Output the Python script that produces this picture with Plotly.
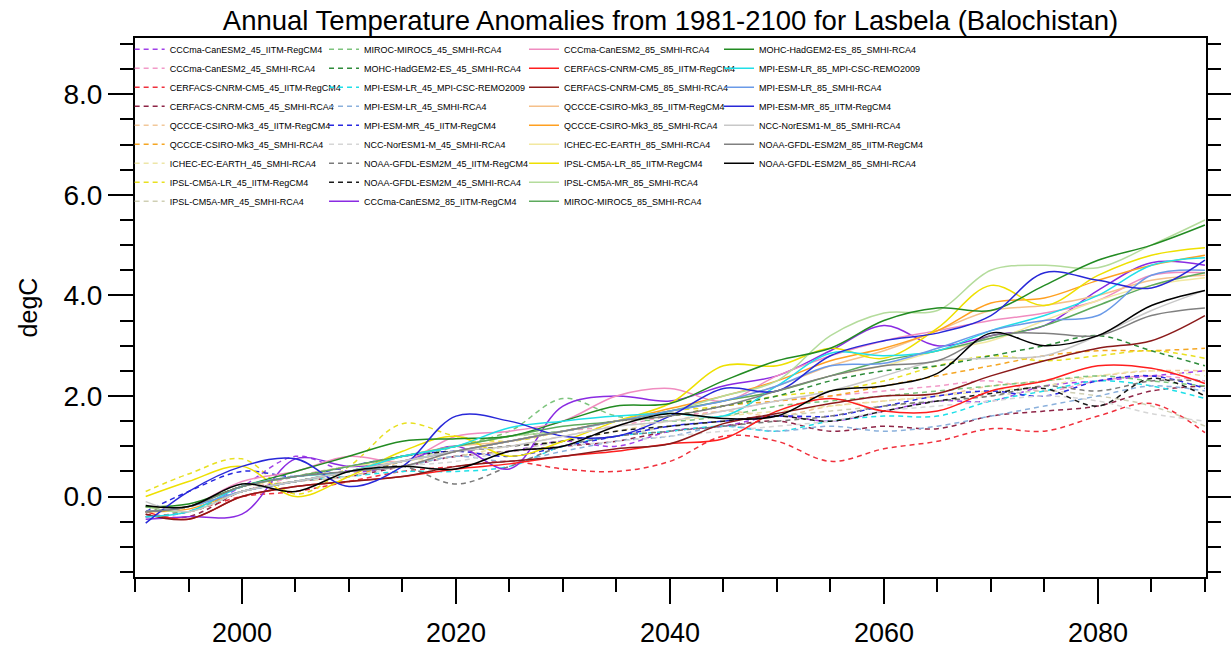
import plotly.graph_objects as go

years = [1991, 1995, 2000, 2005, 2010, 2015, 2020, 2025, 2030, 2035, 2040,
         2045, 2050, 2055, 2060, 2065, 2070, 2075, 2080, 2085, 2090]

# ---- RCP4.5 (dashed) ----
cccma45_iitm = [-0.40, -0.30, 0.20, 0.80, 0.50, 0.60, 0.80, 0.90, 1.10, 1.00, 1.30, 1.40, 1.60, 1.50, 1.70, 1.90, 1.90, 2.20, 2.30, 2.40, 2.50]
cccma45_smhi = [-0.30, -0.20, 0.10, 0.40, 0.60, 0.70, 0.90, 1.10, 1.30, 1.40, 1.60, 1.70, 1.90, 2.00, 2.10, 2.20, 2.30, 2.10, 2.30, 2.40, 2.30]
cerfacs45_iitm = [-0.40, -0.30, 0.00, 0.10, 0.30, 0.50, 0.60, 0.70, 0.55, 0.50, 0.70, 1.20, 1.10, 0.70, 0.95, 1.10, 1.35, 1.30, 1.60, 1.85, 1.27]
cerfacs45_smhi = [-0.35, -0.40, 0.10, 0.30, 0.40, 0.60, 0.80, 0.90, 1.00, 1.10, 1.30, 1.40, 1.50, 1.30, 1.40, 1.35, 1.60, 1.70, 1.80, 2.10, 2.20]
qccce45_iitm = [-0.30, -0.20, 0.20, 0.30, 0.50, 0.60, 0.90, 1.00, 1.20, 1.40, 1.50, 1.70, 1.60, 1.80, 1.90, 2.00, 2.20, 2.30, 2.40, 2.50, 2.50]
qccce45_smhi = [-0.30, -0.20, 0.10, 0.30, 0.40, 0.70, 0.90, 1.10, 1.30, 1.50, 1.60, 1.80, 1.90, 2.00, 2.20, 2.40, 2.60, 2.80, 2.90, 2.90, 2.95]
ichec45_smhi = [-0.30, -0.20, 0.20, 0.40, 0.50, 0.70, 0.80, 1.00, 1.10, 1.30, 1.50, 1.60, 1.70, 1.80, 1.90, 2.00, 2.10, 2.20, 2.40, 2.50, 2.40]
ipsllr45_iitm = [0.10, 0.45, 0.75, 0.05, 0.60, 1.45, 1.20, 1.10, 1.30, 1.50, 1.70, 1.80, 2.00, 2.10, 2.30, 2.60, 2.80, 2.70, 2.80, 2.90, 2.75]
ipslmr45_smhi = [-0.20, -0.30, 0.10, 0.30, 0.50, 0.60, 0.80, 0.90, 1.10, 1.20, 1.40, 1.50, 1.60, 1.70, 1.80, 1.90, 2.00, 2.10, 2.00, 1.80, 1.40]
miroc45_smhi = [-0.30, -0.20, 0.10, 0.30, 0.50, 0.70, 1.00, 1.30, 1.95, 1.60, 1.50, 1.60, 1.80, 1.90, 2.00, 2.10, 2.20, 2.30, 2.40, 2.30, 2.20]
mohc45_smhi = [-0.30, -0.20, 0.20, 0.40, 0.60, 0.80, 1.00, 1.20, 1.30, 1.50, 1.60, 1.80, 2.00, 2.30, 2.50, 2.60, 2.80, 3.00, 3.20, 2.90, 2.60]
mpilr45_remo = [-0.40, -0.30, 0.10, 0.30, 0.40, 0.50, 0.50, 0.60, 1.00, 1.20, 1.30, 1.40, 1.30, 1.50, 1.60, 1.60, 1.90, 2.10, 2.30, 2.20, 1.95]
mpilr45_smhi = [-0.30, -0.20, 0.10, 0.30, 0.50, 0.60, 0.80, 0.70, 0.90, 1.10, 1.20, 1.40, 1.30, 1.40, 1.30, 1.40, 1.60, 1.80, 2.00, 2.20, 2.10]
mpimr45_iitm = [-0.30, 0.10, 0.50, 0.40, 0.60, 0.80, 0.90, 0.80, 1.00, 1.20, 1.40, 1.50, 1.60, 1.60, 1.80, 2.00, 2.10, 2.00, 2.30, 2.40, 2.15]
ncc45_smhi = [-0.30, -0.20, 0.10, 0.30, 0.40, 0.60, 0.70, 0.90, 1.00, 1.10, 1.20, 1.30, 1.40, 1.50, 1.70, 1.80, 1.90, 2.00, 1.90, 1.65, 1.50]
noaa45_iitm = [-0.30, -0.20, 0.20, 0.40, 0.50, 0.60, 0.25, 0.60, 1.00, 1.20, 1.30, 1.40, 1.50, 1.60, 1.80, 1.90, 2.00, 2.20, 2.10, 2.30, 2.30]
noaa45_smhi = [-0.20, -0.30, 0.10, 0.30, 0.50, 0.80, 0.90, 1.00, 1.10, 1.30, 1.40, 1.50, 1.60, 1.50, 1.70, 1.90, 2.05, 2.15, 1.80, 2.35, 2.00]

# ---- RCP8.5 (solid) ----
cccma85_iitm = [-0.45, -0.40, -0.35, 0.75, 0.60, 0.70, 1.00, 0.55, 1.80, 2.00, 1.90, 2.20, 2.40, 2.90, 3.40, 3.00, 3.20, 3.40, 4.10, 4.65, 4.60]
cccma85_smhi = [-0.30, -0.20, 0.30, 0.50, 0.80, 0.70, 1.20, 1.30, 1.50, 2.00, 2.15, 1.90, 2.40, 2.80, 3.10, 3.30, 3.50, 3.65, 3.90, 4.40, 4.45]
cerfacs85_iitm = [-0.30, -0.45, 0.00, 0.20, 0.30, 0.40, 0.55, 0.65, 0.80, 0.90, 1.05, 1.15, 1.70, 1.95, 1.70, 1.70, 2.10, 2.30, 2.60, 2.55, 2.25]
cerfacs85_smhi = [-0.35, -0.45, 0.00, 0.20, 0.30, 0.40, 0.60, 0.70, 0.80, 0.95, 1.05, 1.45, 1.65, 1.85, 2.00, 2.05, 2.40, 2.70, 2.95, 3.10, 3.60]
qccce85_iitm = [-0.30, -0.20, 0.20, 0.40, 0.50, 0.80, 1.00, 1.10, 1.30, 1.50, 1.70, 1.90, 2.20, 2.60, 2.90, 3.30, 3.70, 3.80, 4.00, 4.30, 4.40]
qccce85_smhi = [-0.30, -0.25, 0.10, 0.30, 0.50, 0.70, 0.90, 1.10, 1.30, 1.50, 1.75, 2.00, 2.30, 2.70, 2.95, 3.30, 3.85, 3.95, 4.30, 4.60, 4.80]
ichec85_smhi = [-0.20, -0.20, 0.20, 0.40, 0.60, 0.70, 0.90, 1.10, 1.30, 1.50, 1.70, 1.90, 2.10, 2.40, 2.60, 2.90, 3.10, 3.50, 3.90, 4.20, 4.35]
ipsllr85_iitm = [0.00, 0.30, 0.60, 0.00, 0.40, 0.90, 1.20, 0.80, 1.10, 1.50, 1.85, 2.60, 2.60, 2.95, 2.75, 3.35, 4.20, 3.80, 4.40, 4.80, 4.95]
ipslmr85_smhi = [-0.20, -0.30, 0.10, 0.30, 0.50, 0.80, 1.00, 1.20, 1.30, 1.50, 1.70, 2.00, 2.30, 3.20, 3.65, 3.70, 4.50, 4.60, 4.55, 5.00, 5.50]
miroc85_smhi = [-0.30, -0.20, 0.20, 0.40, 0.60, 0.80, 1.00, 1.20, 1.40, 1.50, 1.70, 1.90, 2.10, 2.40, 2.70, 2.90, 3.15, 3.40, 3.80, 4.20, 4.45]
mohc85_smhi = [-0.20, -0.15, 0.20, 0.50, 0.80, 1.10, 1.15, 1.20, 1.50, 1.80, 1.85, 2.30, 2.70, 2.95, 3.50, 3.75, 3.70, 4.20, 4.70, 5.00, 5.40]
mpilr85_remo = [-0.40, -0.30, 0.20, 0.40, 0.50, 0.80, 1.00, 1.37, 1.50, 1.60, 1.65, 1.60, 2.20, 2.85, 2.80, 2.90, 3.30, 3.60, 4.00, 4.60, 4.75]
mpilr85_smhi = [-0.30, -0.20, 0.10, 0.30, 0.50, 0.70, 0.90, 1.10, 1.30, 1.50, 1.70, 1.90, 2.20, 2.60, 2.65, 2.95, 3.30, 3.50, 3.60, 4.40, 4.50]
mpimr85_iitm = [-0.53, 0.10, 0.60, 0.75, 0.20, 0.60, 1.60, 1.50, 1.20, 1.20, 1.60, 2.15, 2.10, 2.80, 3.10, 3.25, 3.60, 4.45, 4.30, 4.15, 4.70]
ncc85_smhi = [-0.10, -0.30, 0.10, 0.30, 0.50, 0.70, 0.90, 1.00, 1.20, 1.40, 1.50, 1.70, 1.90, 2.10, 2.40, 2.70, 2.75, 2.80, 3.20, 3.70, 4.10]
noaa85_iitm = [-0.30, -0.20, 0.20, 0.40, 0.50, 0.60, 0.90, 1.10, 1.30, 1.50, 1.60, 1.80, 2.10, 2.40, 2.60, 2.70, 3.20, 3.25, 3.20, 3.60, 3.75]
noaa85_smhi = [-0.18, -0.20, 0.25, 0.10, 0.50, 0.60, 0.55, 0.90, 1.00, 1.40, 1.65, 1.55, 1.60, 2.10, 2.20, 2.45, 3.25, 3.00, 3.20, 3.80, 4.10]

names = [
    "CCCma-CanESM2_45_IITM-RegCM4", "CCCma-CanESM2_45_SMHI-RCA4",
    "CERFACS-CNRM-CM5_45_IITM-RegCM4", "CERFACS-CNRM-CM5_45_SMHI-RCA4",
    "QCCCE-CSIRO-Mk3_45_IITM-RegCM4", "QCCCE-CSIRO-Mk3_45_SMHI-RCA4",
    "ICHEC-EC-EARTH_45_SMHI-RCA4", "IPSL-CM5A-LR_45_IITM-RegCM4",
    "IPSL-CM5A-MR_45_SMHI-RCA4",
    "MIROC-MIROC5_45_SMHI-RCA4", "MOHC-HadGEM2-ES_45_SMHI-RCA4",
    "MPI-ESM-LR_45_MPI-CSC-REMO2009", "MPI-ESM-LR_45_SMHI-RCA4",
    "MPI-ESM-MR_45_IITM-RegCM4", "NCC-NorESM1-M_45_SMHI-RCA4",
    "NOAA-GFDL-ESM2M_45_IITM-RegCM4", "NOAA-GFDL-ESM2M_45_SMHI-RCA4",
    "CCCma-CanESM2_85_IITM-RegCM4",
    "CCCma-CanESM2_85_SMHI-RCA4", "CERFACS-CNRM-CM5_85_IITM-RegCM4",
    "CERFACS-CNRM-CM5_85_SMHI-RCA4", "QCCCE-CSIRO-Mk3_85_IITM-RegCM4",
    "QCCCE-CSIRO-Mk3_85_SMHI-RCA4", "ICHEC-EC-EARTH_85_SMHI-RCA4",
    "IPSL-CM5A-LR_85_IITM-RegCM4", "IPSL-CM5A-MR_85_SMHI-RCA4",
    "MIROC-MIROC5_85_SMHI-RCA4",
    "MOHC-HadGEM2-ES_85_SMHI-RCA4", "MPI-ESM-LR_85_MPI-CSC-REMO2009",
    "MPI-ESM-LR_85_SMHI-RCA4", "MPI-ESM-MR_85_IITM-RegCM4",
    "NCC-NorESM1-M_85_SMHI-RCA4", "NOAA-GFDL-ESM2M_85_IITM-RegCM4",
    "NOAA-GFDL-ESM2M_85_SMHI-RCA4",
]

series = [
    cccma45_iitm, cccma45_smhi, cerfacs45_iitm, cerfacs45_smhi, qccce45_iitm,
    qccce45_smhi, ichec45_smhi, ipsllr45_iitm, ipslmr45_smhi, miroc45_smhi,
    mohc45_smhi, mpilr45_remo, mpilr45_smhi, mpimr45_iitm, ncc45_smhi,
    noaa45_iitm, noaa45_smhi,
    cccma85_iitm, cccma85_smhi, cerfacs85_iitm, cerfacs85_smhi, qccce85_iitm,
    qccce85_smhi, ichec85_smhi, ipsllr85_iitm, ipslmr85_smhi, miroc85_smhi,
    mohc85_smhi, mpilr85_remo, mpilr85_smhi, mpimr85_iitm, ncc85_smhi,
    noaa85_iitm, noaa85_smhi,
]

# ---- styles ----
colors45 = ["#A040E8", "#F29AC8", "#F0303C", "#8E2446", "#F2C89A", "#F5A623",
            "#EDE6A8", "#E8E020", "#CFCFB4", "#7DC47D", "#2E8B3A", "#1EE0E8",
            "#8AB0DC", "#2828E0", "#D6D6D6", "#7A7A7A", "#1A1A1A"]
colors85 = ["#8A2BE2", "#F08CC0", "#FF1E1E", "#8B1A1A", "#F5C08A", "#FFA020",
            "#F2E8A0", "#EEE000", "#B4DC9C", "#5DAA5D", "#228B22", "#20E0E8",
            "#6A9AE8", "#2828D8", "#C8C8C8", "#808080", "#000000"]
colors = colors45 + colors85
dashes = ["5px,4px"] * 17 + ["solid"] * 17
legend_ids = ["legend"] * 9 + ["legend2"] * 9 + ["legend3"] * 9 + ["legend4"] * 7

fig = go.Figure()
for nm, vals, col, ds, lg in zip(names, series, colors, dashes, legend_ids):
    fig.add_trace(go.Scatter(
        x=years, y=vals, mode="lines", name=nm, legend=lg,
        line=dict(color=col, width=1.5, dash=ds, shape="spline", smoothing=1.0),
    ))

FONT = "Liberation Sans, Arial, Helvetica, sans-serif"
leg_common = dict(yanchor="top", xanchor="left", bgcolor="rgba(0,0,0,0)",
                  font=dict(family=FONT, size=9, color="black"),
                  itemwidth=30, tracegroupgap=0, orientation="v")

fig.update_layout(
    width=1231, height=649,
    margin=dict(l=135, r=25, t=38, b=72, autoexpand=False),
    paper_bgcolor="white", plot_bgcolor="white",
    font=dict(family=FONT, color="black"),
    title=dict(text="Annual Temperature Anomalies from 1981-2100 for Lasbela (Balochistan)",
               x=0.5, xref="paper", xanchor="center", y=1 - 20 / 649, yref="container",
               yanchor="middle", font=dict(family=FONT, size=27.5, color="black")),
    showlegend=True,
    legend=dict(x=-0.005, y=1.006, **leg_common),
    legend2=dict(x=0.1765, y=1.006, **leg_common),
    legend3=dict(x=0.3632, y=1.006, **leg_common),
    legend4=dict(x=0.5453, y=1.006, **leg_common),
    xaxis=dict(range=[1990, 2090.1], showgrid=False, zeroline=False, automargin=False,
               showline=True, linecolor="black", linewidth=2, mirror=True,
               ticks="outside", tickmode="linear", tick0=2000, dtick=20,
               ticklen=25, tickwidth=1.5, tickcolor="black",
               tickfont=dict(family=FONT, size=27, color="black"),
               ticklabelstandoff=6,
               minor=dict(ticks="outside", tickmode="linear", tick0=1990, dtick=5,
                          ticklen=13, tickwidth=1.5, tickcolor="black", showgrid=False)),
    yaxis=dict(range=[-1.6, 9.12], showgrid=False, zeroline=False, automargin=False,
               showline=True, linecolor="black", linewidth=2, mirror="allticks",
               ticks="outside", tickmode="linear", tick0=0, dtick=2, tickformat=".1f",
               ticklen=25, tickwidth=1.5, tickcolor="black",
               tickfont=dict(family=FONT, size=28, color="black"),
               title=dict(text="degC", font=dict(family=FONT, size=25, color="black"),
                          standoff=19),
               minor=dict(ticks="outside", tickmode="linear", tick0=0, dtick=0.5,
                          ticklen=13, tickwidth=1.5, tickcolor="black", showgrid=False)),
)

fig.write_html("out.html", config={"displayModeBar": False},
               post_script="document.body.style.margin='0px';document.body.style.padding='0px';")
